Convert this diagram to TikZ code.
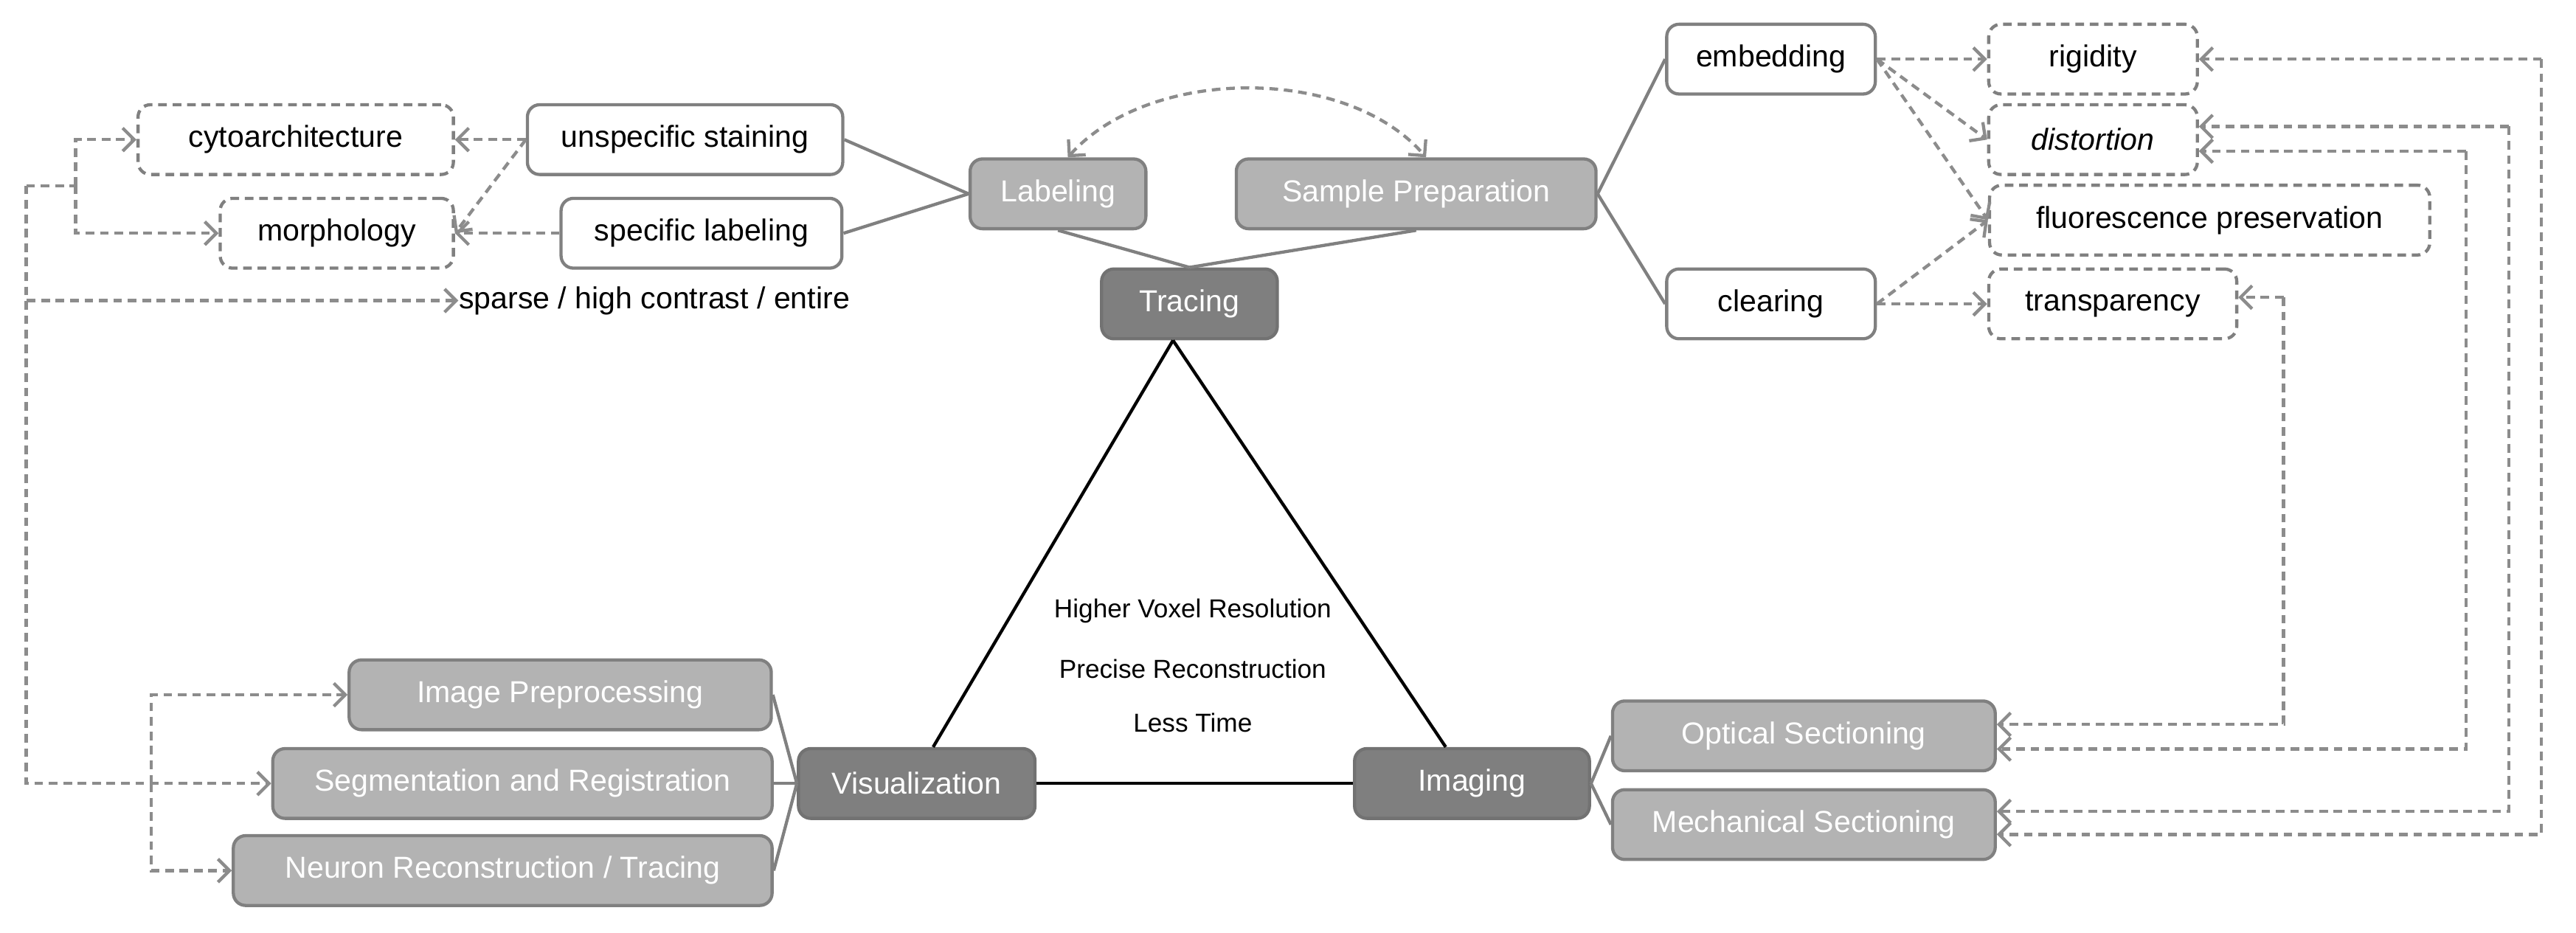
\documentclass[tikz,border=0pt]{standalone}
\usepackage{fontspec}
\setmainfont{Liberation Sans}
\usetikzlibrary{arrows.meta,calc}
\definecolor{bd}{HTML}{808080}
\definecolor{lf}{HTML}{B3B3B3}
\definecolor{df}{HTML}{7F7F7F}
\definecolor{dl}{HTML}{8C8C8C}
\begin{document}
\begin{tikzpicture}[x=0.02cm,y=-0.02cm,
 box/.style={draw=bd,line width=1.1pt,rounded corners=0.15cm,minimum height=0.85cm,inner sep=0pt,font=\fontsize{10.5}{12}\selectfont},
 wbox/.style={box,fill=white,text=black},
 dbox/.style={box,dash pattern=on 3pt off 2pt,text=black},
 lbox/.style={box,fill=lf,text=white},
 kbox/.style={box,fill=df,draw=df!90!black,text=white},
 ln/.style={draw=bd,line width=1.1pt},
 da/.style={draw=dl,line width=1.1pt,dash pattern=on 3pt off 2pt,-{Straight Barb[length=4pt,width=8pt]}},
 dn/.style={draw=dl,line width=1.1pt,dash pattern=on 3pt off 2pt}]
\useasboundingbox (0,0) rectangle (1568,568);
% left top
\node[dbox,minimum width=3.84cm] (cyto) at (180,85) {cytoarchitecture};
\node[dbox,minimum width=2.84cm] (morph) at (205,142) {morphology};
\node[wbox,minimum width=3.84cm] (unsp) at (417,85) {unspecific staining};
\node[wbox,minimum width=3.42cm] (spec) at (427,142) {specific labeling};
\node[lbox,minimum width=2.14cm] (lab) at (644,118) {Labeling};
\node[lbox,minimum width=4.38cm] (sp) at (862,118) {Sample Preparation};
\node[kbox,minimum width=2.14cm] (tr) at (724,185) {Tracing};
\node[anchor=west,inner sep=0pt,font=\fontsize{10.5}{12}\selectfont] (sparse) at (279,183) {sparse / high contrast / entire};
% right top
\node[wbox,minimum width=2.54cm] (emb) at (1078,36) {embedding};
\node[wbox,minimum width=2.54cm] (clr) at (1078,185) {clearing};
\node[dbox,minimum width=2.54cm] (rig) at (1274,36) {rigidity};
\node[dbox,minimum width=2.54cm] (dis) at (1274,85) {\itshape distortion};
\node[dbox,minimum width=5.36cm] (flu) at (1345,134) {fluorescence preservation};
\node[dbox,minimum width=3.02cm] (trn) at (1286,185) {transparency};
% bottom
\node[lbox,minimum width=5.14cm] (prep) at (341,423) {Image Preprocessing};
\node[lbox,minimum width=6.08cm] (seg) at (318,477) {Segmentation and Registration};
\node[lbox,minimum width=6.56cm] (neur) at (306,530) {Neuron Reconstruction / Tracing};
\node[kbox,minimum width=2.88cm] (vis) at (558,477) {Visualization};
\node[kbox,minimum width=2.86cm] (img) at (896,477) {Imaging};
\node[lbox,minimum width=4.66cm] (opt) at (1098,448) {Optical Sectioning};
\node[lbox,minimum width=4.66cm] (mech) at (1098,502) {Mechanical Sectioning};
% center text
\node[font=\fontsize{9}{11}\selectfont] (t1) at (726,372) {Higher Voxel Resolution};
\node[font=\fontsize{9}{11}\selectfont] (t2) at (726,407) {Precise Reconstruction};
\node[font=\fontsize{9}{11}\selectfont] (t3) at (726,440) {Less Time};
% triangle
\draw[black,line width=1.1pt] ($(tr.south)+(-10,0)$) -- ($(vis.north)+(10,0)$);
\draw[black,line width=1.1pt] ($(tr.south)+(-10,0)$) -- ($(img.north)+(-16,0)$);
\draw[black,line width=1.1pt] (vis.east) -- (img.west);
% solid connectors
\draw[ln] (lab.west) -- (unsp.east);
\draw[ln] (lab.west) -- (spec.east);
\draw[ln] (lab.south) -- (tr.north);
\draw[ln] (sp.south) -- (tr.north);
\draw[ln] (sp.east) -- (emb.west);
\draw[ln] (sp.east) -- (clr.west);
\draw[ln] (vis.west) -- (prep.east);
\draw[ln] (vis.west) -- (seg.east);
\draw[ln] (vis.west) -- (neur.east);
\draw[ln] (img.east) -- (opt.west);
\draw[ln] (img.east) -- (mech.west);
% curved
\draw[dn,{Straight Barb[length=4pt,width=8pt]}-{Straight Barb[length=4pt,width=8pt]}] ($(lab.north)+(6,0)$) .. controls (700,40) and (820,40) .. ($(sp.north)+(6,0)$);
% left dashed
\draw[da] (unsp.west) -- (cyto.east);
\draw[da] (unsp.west) -- (morph.east);
\draw[da] (spec.west) -- (morph.east);
\coordinate (a1) at (16,113);
\coordinate (a2) at (46,113);
\coordinate (a3) at (92,477);
\draw[dn] (a1) -- (a2);
\draw[da] (a2) |- (cyto.west);
\draw[da] (a2) |- (morph.west);
\draw[da] (a1) |- (sparse.west);
\draw[da] (a1) |- (seg.west);
\draw[da] (a3) |- (prep.west);
\draw[da] (a3) |- (neur.west);
% right dashed
\draw[da] (emb.east) -- (rig.west);
\draw[da] (emb.east) -- (dis.west);
\draw[da] (emb.east) -- (flu.west);
\draw[da] (clr.east) -- (flu.west);
\draw[da] (clr.east) -- (trn.west);
\coordinate (r1) at (1547,36);
\coordinate (r2) at (1527,77);
\coordinate (r3) at (1501,92);
\coordinate (r4) at (1390,181);
\draw[da] (r1) -- (rig.east);
\draw[da] (r1) |- ($(mech.east)+(0,6)$);
\draw[da] (r2) -- ($(dis.east)+(0,-8)$);
\draw[da] (r2) |- ($(mech.east)+(0,-8)$);
\draw[da] (r3) -- ($(dis.east)+(0,7)$);
\draw[da] (r3) |- ($(opt.east)+(0,8)$);
\draw[da] (r4) -- ($(trn.east)+(0,-4)$);
\draw[da] (r4) |- ($(opt.east)+(0,-7)$);
\end{tikzpicture}
\end{document}
